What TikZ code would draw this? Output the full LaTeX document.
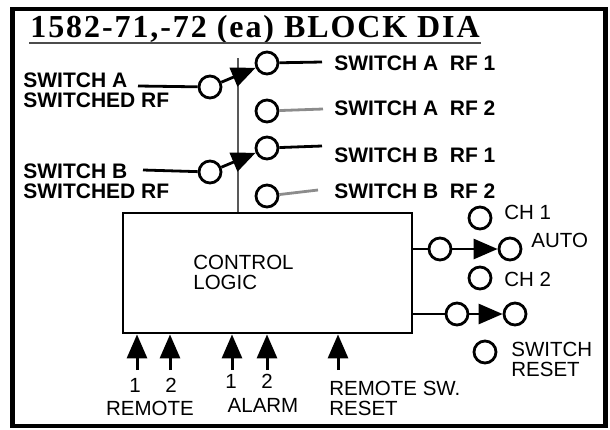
\documentclass[tikz,border=0pt]{standalone}
\usepackage{fontspec}
\setmainfont{Liberation Sans}
\newfontfamily\titlefont[LetterSpace=6]{Liberation Serif}
\usetikzlibrary{arrows.meta}

\begin{document}
\begin{tikzpicture}[x=1pt, y=-1pt, line width=2.8pt,
    port/.style = {draw, circle, minimum size=22pt, inner sep=0pt},
    lbl/.style = {font=\fontsize{21}{20}\selectfont\bfseries, align=left, inner sep=0pt},
    txt/.style = {font=\fontsize{20.5}{20}\selectfont, align=left, inner sep=0pt},
    tip/.style = {-{Triangle[length=24pt, width=20pt]}}]
    \useasboundingbox (0,0) rectangle (610,429);
    \draw[line width=4.5pt] (12.5,9) rectangle (605.5,426);
    % title
    \node[anchor=base west, inner sep=0pt, font=\titlefont\fontsize{32}{32}\selectfont\bfseries] (title) at (29,37) {1582-71,-72 (ea) BLOCK DIA};
    \draw[line width=1.8pt, black!70] ([yshift=-6pt]title.base west) -- ([yshift=-6pt]title.base east);
    % control block
    \node[draw, minimum width=289pt, minimum height=120pt, inner sep=0pt] (logic) at (267.5,273) {};
    \node[txt, anchor=west] (ctl) at (192,272) {CONTROL\\LOGIC};
    % rf switches
    \coordinate (top) at (238,58);
    \draw[black!65] (top) -- (top |- logic.north);
    \node[port] (a)  at (210,87)  {};
    \node[port] (a1) at (267,63)  {};
    \node[port] (a2) at (267,111) {};
    \node[port] (b1) at (267,148) {};
    \node[port] (b)  at (210,172) {};
    \node[port] (b2) at (267,196) {};
    \node[lbl, anchor=west] (ta)  at (22,90.5)  {SWITCH A\\SWITCHED RF};
    \node[lbl, anchor=west] (tb)  at (22,181.5) {SWITCH B\\SWITCHED RF};
    \node[lbl, anchor=west] (ta1) at (333,63)  {SWITCH A\ \ RF 1};
    \node[lbl, anchor=west] (ta2) at (333,108) {SWITCH A\ \ RF 2};
    \node[lbl, anchor=west] (tb1) at (333,155) {SWITCH B\ \ RF 1};
    \node[lbl, anchor=west] (tb2) at (333,191) {SWITCH B\ \ RF 2};
    \coordinate (ina) at (138,86);
    \coordinate (inb) at (143,170);
    \coordinate (ea1) at (322,62);
    \coordinate (ea2) at (323,109);
    \coordinate (eb1) at (322,146);
    \coordinate (eb2) at (318,190);
    \draw (ina) -- (a);
    \draw (inb) -- (b);
    \draw[tip] (a) -- (a1);
    \draw[tip] (b) -- (b1);
    \draw (a1) -- (ea1);
    \draw (b1) -- (eb1);
    \draw[black!45] (a2) -- (ea2);
    \draw[black!45] (b2) -- (eb2);
    % channel select
    \node[port] (ch1)    at (480,218) {};
    \node[port] (sel)    at (440,249) {};
    \node[port] (auto)   at (510,249) {};
    \node[port] (ch2)    at (480,278) {};
    \node[port] (rst)    at (457,314) {};
    \node[port] (rstout) at (515,314) {};
    \node[port] (swrst)  at (485,352) {};
    \node[txt, anchor=west] (tch1)   at (503,212) {CH 1};
    \node[txt, anchor=west] (tauto)  at (530,240) {AUTO};
    \node[txt, anchor=west] (tch2)   at (503,279) {CH 2};
    \node[txt, anchor=west] (tswrst) at (510,359) {SWITCH\\RESET};
    \draw (logic.east |- sel) -- (sel);
    \draw (logic.east |- rst) -- (rst);
    \draw[tip] (sel) -- (auto);
    \draw[tip] (rst) -- (rstout);
    % remote inputs
    \coordinate (r1)  at (137,370);
    \coordinate (r2)  at (170,370);
    \coordinate (al1) at (232,370);
    \coordinate (al2) at (267,370);
    \coordinate (rsw) at (338,370);
    \foreach \p in {r1,r2,al1,al2,rsw}
        \draw[tip, line width=3pt] (\p) -- (\p |- logic.south);
    \node[txt] (n1) at (135,385) {1};
    \node[txt] (n2) at (171,385) {2};
    \node[txt] (n3) at (231,381) {1};
    \node[txt] (n4) at (267,381) {2};
    \node[txt] (tremote) at (150,408) {REMOTE};
    \node[txt] (talarm)  at (263,405) {ALARM};
    \node[txt, anchor=west] (trsw) at (328,398) {REMOTE SW.\\RESET};
\end{tikzpicture}
\end{document}
